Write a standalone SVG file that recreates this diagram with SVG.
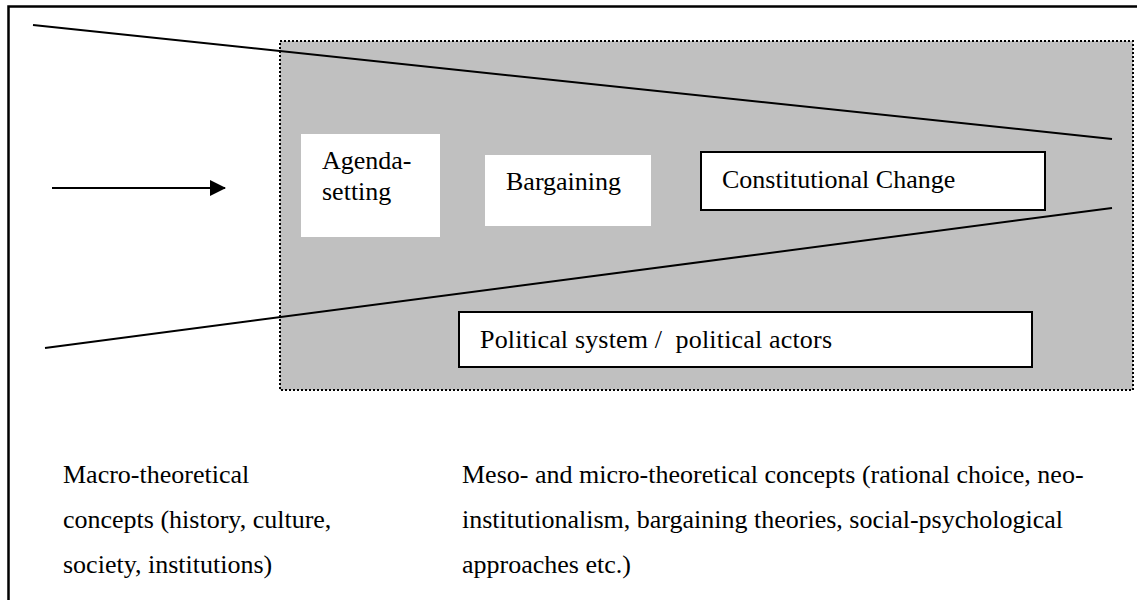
<svg xmlns="http://www.w3.org/2000/svg" width="1137" height="600" viewBox="0 0 1137 600">
  <defs>
    <style>
      .t { font-family: "Liberation Serif", "Times New Roman", serif; font-size: 26px; fill: #000; white-space: pre; }
      .line { stroke: #000; stroke-width: 2; fill: none; }
      .plain { fill: #fff; stroke: none; }
      .boxed { fill: #fff; stroke: #000; stroke-width: 2; }
    </style>
    <marker id="arrowhead" markerWidth="8" markerHeight="8" refX="7.5" refY="4" orient="auto" markerUnits="strokeWidth">
      <path d="M0,0 L8,4 L0,8 Z" fill="#000"/>
    </marker>
  </defs>

  <rect width="1137" height="600" fill="#fff"/>

  <!-- outer frame (open to the right and bottom) -->
  <path d="M8.5,610 V6.5 H1145" fill="none" stroke="#000" stroke-width="2.5"/>

  <!-- shaded field of the process -->
  <g id="field">
    <rect x="280" y="41" width="853" height="349" fill="#c0c0c0" stroke="#000" stroke-width="2" stroke-dasharray="2 2"/>
  </g>

  <!-- funnel lines and arrow -->
  <g id="connectors">
    <line class="line" x1="33" y1="25" x2="1112" y2="139"/>
    <line class="line" x1="45" y1="348" x2="1112" y2="208"/>
    <line class="line" x1="52" y1="188" x2="225" y2="188" marker-end="url(#arrowhead)"/>
  </g>

  <g id="agenda">
    <rect class="plain" x="301" y="134" width="139" height="103"/>
    <text class="t" x="322" y="169">Agenda-</text>
    <text class="t" x="322" y="200">setting</text>
  </g>

  <g id="bargaining">
    <rect class="plain" x="485" y="155" width="166" height="71"/>
    <text class="t" x="506" y="190">Bargaining</text>
  </g>

  <g id="constitutional-change">
    <rect class="boxed" x="701" y="152" width="344" height="58"/>
    <text class="t" x="722" y="188">Constitutional Change</text>
  </g>

  <g id="political-system">
    <rect class="boxed" x="459" y="312" width="573" height="55"/>
    <text class="t" x="480" y="348" xml:space="preserve" textLength="352" lengthAdjust="spacing">Political system /  political actors</text>
  </g>

  <g id="macro-concepts">
    <text class="t" x="63" y="483">Macro-theoretical</text>
    <text class="t" x="63" y="528">concepts (history, culture,</text>
    <text class="t" x="63" y="573">society, institutions)</text>
  </g>

  <g id="meso-micro-concepts">
    <text class="t" x="462" y="483">Meso- and micro-theoretical concepts (rational choice, neo-</text>
    <text class="t" x="462" y="528">institutionalism, bargaining theories, social-psychological</text>
    <text class="t" x="462" y="573">approaches etc.)</text>
  </g>
</svg>
